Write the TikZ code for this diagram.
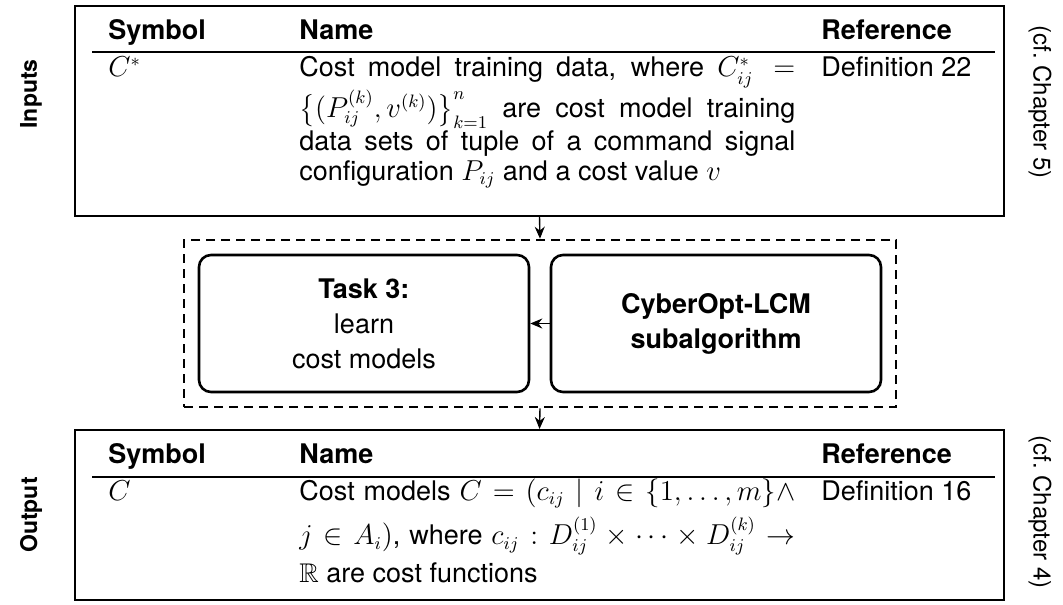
\documentclass[tikz,border=0pt]{standalone}
\usepackage{amsmath,amssymb}
\usepackage[no-math]{fontspec}
\setmainfont{TeX Gyre Heros}
\usetikzlibrary{fit,arrows.meta}

\newcommand\bodysize{\fontsize{13.5}{15}\selectfont}
\newcommand\boxsize{\fontsize{13.5}{17.5}\selectfont}

\tikzset{
  frame/.style={draw, line width=1pt, inner sep=0pt},
  group/.style={draw, line width=1.3pt, dash pattern=on 4.5pt off 3pt, inner sep=0pt},
  taskbox/.style={draw, line width=1.3pt, rounded corners=6pt, inner sep=0pt},
  boxtext/.style={align=center, inner sep=0pt, font=\boxsize},
  tabrule/.style={line width=0.65pt},
  arr/.style={line width=0.7pt, -{Stealth[length=6pt,width=5pt]}},
  cell/.style={anchor=base west, inner sep=0pt, font=\bodysize},
  hdr/.style={cell, font=\bodysize\bfseries},
  side/.style={inner sep=0pt, font=\fontsize{12}{14}\selectfont},
  sidebold/.style={inner sep=0pt, font=\fontsize{11.5}{14}\selectfont\bfseries},
}

\begin{document}
\begin{tikzpicture}[x=0.5pt, y=-0.5pt]
  \useasboundingbox (0,0) rectangle (1063,604);

  % ---- inputs table ----
  \node[frame, fit={(75,6)(1004,216)}] (inbox) {};
  \node[hdr] (ih1) at (108,40) {Symbol};
  \node[hdr] (ih2) at (299,40) {Name};
  \node[hdr] (ih3) at (821,40) {Reference};
  \draw[tabrule] (92,52) -- (995,52);
  \node[cell] (is) at (108,77) {$\bar{C}^*$};
  \node[cell] (in) at (299,77) {\parbox[t]{248pt}{\bodysize\noindent
    Cost model training data, where $C^*_{ij} =$\linebreak
    \rule{0pt}{14pt}$\bigl\{(P^{(k)}_{ij}, v^{(k)})\bigr\}^{n}_{k=1}$ are cost model training\linebreak
    data sets of tuple of a command signal\linebreak
    configuration $P_{ij}$ and a cost value $v$}};
  \node[cell] (ir) at (821,77) {Definition 22};

  \node[sidebold, rotate=90] (inlabel) at (31,94) {Inputs};
  \node[side, rotate=-90] (inref) at (1040,102) {(cf.\ Chapter 5)};

  % ---- subalgorithm group ----
  \node[group, fit={(184,240)(896,407)}] (grp) {};
  \node[taskbox, fit={(199,255)(529,392)}] (task) {};
  \node[boxtext] (tasktxt) at (task.center)
    {\textbf{Task 3:}\\learn\\cost models};
  \node[taskbox, fit={(551,255)(881,392)}] (lcm) {};
  \node[boxtext, font=\boxsize\bfseries] (lcmtxt) at (lcm.center)
    {CyberOpt-LCM\\subalgorithm};

  % ---- output table ----
  \node[frame, fit={(75,430)(1004,600)}] (outbox) {};
  \node[hdr] (oh1) at (108,463) {Symbol};
  \node[hdr] (oh2) at (299,463) {Name};
  \node[hdr] (oh3) at (821,463) {Reference};
  \draw[tabrule] (92,477) -- (995,477);
  \node[cell] (os) at (108,500) {$C$};
  \node[cell] (on) at (299,500) {\parbox[t]{248pt}{\bodysize\noindent
    Cost models $C = (c_{ij} \mid i \in \{1,\dots,m\} \wedge$\linebreak
    \rule{0pt}{17.5pt}$j \in A_i)$, where $c_{ij} : D^{(1)}_{ij} \times \cdots \times D^{(k)}_{ij} \to$\linebreak
    \rule{0pt}{13pt}$\mathbb{R}$ are cost functions}};
  \node[cell] (or) at (821,500) {Definition 16};

  \node[sidebold, rotate=90] (outlabel) at (31,515) {Output};
  \node[side, rotate=-90] (outref) at (1040,512) {(cf.\ Chapter 4)};

  % ---- connectors ----
  \draw[arr] (inbox.south) -- (grp.north);
  \draw[arr] (lcm.west) -- (task.east);
  \draw[arr] (grp.south) -- (outbox.north);
\end{tikzpicture}
\end{document}
